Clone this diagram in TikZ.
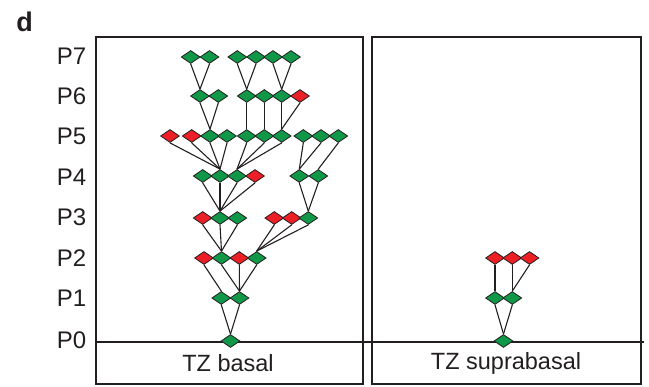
\documentclass[tikz,border=0pt]{standalone}
\usepackage{fontspec}
\setmainfont{Liberation Sans}
\usetikzlibrary{shapes.geometric}
\definecolor{gr}{RGB}{16,152,72}
\definecolor{rd}{RGB}{236,30,38}
\definecolor{ink}{RGB}{35,31,32}
\tikzset{
  dia/.style={diamond, draw=ink, line width=0.8pt, inner sep=0pt, minimum width=19pt, minimum height=13pt, aspect=1.5},
  edge/.style={draw=ink, line width=1.1pt},
  frame/.style={draw=ink, line width=2.2pt},
  lvl/.style={anchor=east, inner sep=0pt, font=\fontsize{24}{28}\selectfont, text=ink},
  captext/.style={inner sep=0pt, font=\fontsize{23.5}{28}\selectfont, text=ink}
}
\begin{document}
\begin{tikzpicture}[x=1pt,y=-1pt]
\useasboundingbox (0,0) rectangle (649,387);
% frames
\draw[frame] (96,37) rectangle (363,384);
\draw[frame] (372,37) rectangle (641,384);
\draw[frame] (96,342) -- (644,342);
% labels
\node[inner sep=0pt, font=\bfseries\fontsize{27}{30}\selectfont, text=ink] (dlab) at (24.5,22) {d};
\foreach \t/\y in {7/56,6/96,5/136,4/177,3/217,2/258,1/298,0/340}
  \node[lvl] (p\t) at (86.5,\y) {P\t};
\node[captext] (capl) at (228,363) {TZ basal};
\node[captext] (capr) at (506,363) {TZ suprabasal};
% left tree nodes
\foreach \x/\c [count=\i] in {190.7/gr,209.5/gr,237.3/gr,256/gr,273/gr,291/gr}
  \node[dia,fill=\c] (l7-\i) at (\x,57) {};
\foreach \x/\c [count=\i] in {200/gr,218.3/gr,246.7/gr,264.3/gr,281.7/gr,300/rd}
  \node[dia,fill=\c] (l6-\i) at (\x,96) {};
\foreach \x/\c [count=\i] in {170/rd,191.7/rd,210/gr,227/gr,246.7/gr,264.3/gr,281.7/gr,303.3/gr,321/gr,338.3/gr}
  \node[dia,fill=\c] (l5-\i) at (\x,136) {};
\foreach \x/\c [count=\i] in {202.7/gr,220/gr,237/gr,255/rd,299.3/gr,318.3/gr}
  \node[dia,fill=\c] (l4-\i) at (\x,176) {};
\foreach \x/\c [count=\i] in {202.7/rd,220/gr,237.3/gr,274.3/rd,291.7/rd,308.3/gr}
  \node[dia,fill=\c] (l3-\i) at (\x,218) {};
\foreach \x/\c [count=\i] in {204/rd,221.5/gr,239.3/rd,256.7/gr}
  \node[dia,fill=\c] (l2-\i) at (\x,258) {};
\foreach \x/\c [count=\i] in {221.3/gr,239.5/gr}
  \node[dia,fill=\c] (l1-\i) at (\x,298) {};
\node[dia,fill=gr] (l0-1) at (230.5,341) {};
% right tree nodes
\foreach \x/\c [count=\i] in {495/rd,512.3/rd,529.5/rd}
  \node[dia,fill=\c] (r2-\i) at (\x,258) {};
\foreach \x/\c [count=\i] in {495/gr,512.3/gr}
  \node[dia,fill=\c] (r1-\i) at (\x,298) {};
\node[dia,fill=gr] (r0-1) at (503.5,341) {};
% edges
\foreach \a/\b in {l7-1/l6-1,l7-2/l6-1,l7-3/l6-3,l7-4/l6-3,l7-5/l6-5,l7-6/l6-5,
  l6-1/l5-3,l6-2/l5-3,l6-3/l5-5,l6-4/l5-6,l6-5/l5-7,l6-6/l5-7,
  l5-1/l4-2,l5-2/l4-2,l5-3/l4-2,l5-4/l4-2,l5-5/l4-3,l5-6/l4-3,l5-7/l4-3,l5-8/l4-5,l5-9/l4-5,l5-10/l4-6,
  l4-1/l3-2,l4-2/l3-2,l4-3/l3-2,l4-4/l3-2,l4-5/l3-6,l4-6/l3-6,
  l3-1/l2-2,l3-2/l2-2,l3-3/l2-2,l3-4/l2-4,l3-5/l2-4,l3-6/l2-4,
  l2-1/l1-1,l2-2/l1-2,l2-3/l1-2,l2-4/l1-2,
  l1-1/l0-1,l1-2/l0-1,
  r2-1/r1-1,r2-2/r1-2,r2-3/r1-2,r1-1/r0-1,r1-2/r0-1}
  \draw[edge] (\a.south) -- (\b.north);
\end{tikzpicture}
\end{document}
